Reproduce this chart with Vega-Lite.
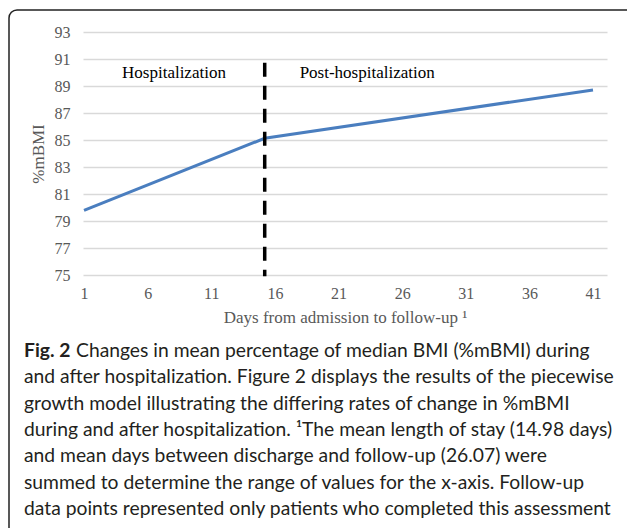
{
  "$schema": "https://vega.github.io/schema/vega-lite/v6.json",
  "width": 626,
  "height": 530,
  "autosize": {"type": "none"},
  "padding": {"left": 9, "top": 10, "right": -8, "bottom": -12},
  "background": "white",
  "config": {
    "view": {"stroke": "#222222", "strokeWidth": 1.5, "cornerRadius": 8},
    "font": "Liberation Serif"
  },
  "datasets": {
    "series": [
      {"day": 1, "mbmi": 79.78},
      {"day": 15.2, "mbmi": 85.13},
      {"day": 41, "mbmi": 88.71}
    ],
    "divider": [{"day": 15.2, "top": 90.72, "bottom": 74.9}],
    "phases": [
      {"day": 8.07, "level": 89.57, "label": "Hospitalization"},
      {"day": 23.25, "level": 89.57, "label": "Post-hospitalization"}
    ],
    "figlabel": [{"line": 1, "text": "Fig. 2"}],
    "firstline": [{"line": 1, "text": "Changes in mean percentage of median BMI (%mBMI) during"}],
    "caption": [
      {"line": 2, "text": "and after hospitalization. Figure 2 displays the results of the piecewise"},
      {"line": 3, "text": "growth model illustrating the differing rates of change in %mBMI"},
      {"line": 4, "text": "during and after hospitalization. ¹The mean length of stay (14.98 days)"},
      {"line": 5, "text": "and mean days between discharge and follow-up (26.07) were"},
      {"line": 6, "text": "summed to determine the range of values for the x-axis. Follow-up"},
      {"line": 7, "text": "data points represented only patients who completed this assessment"}
    ]
  },
  "layer": [
    {
      "layer": [
        {
          "data": {"name": "series"},
          "mark": {"type": "line", "color": "#4a7ebf", "strokeWidth": 3},
          "encoding": {
            "x": {
              "field": "day",
              "type": "quantitative",
              "scale": {"domain": [0.92, 42.1], "range": [74, 598], "nice": false, "zero": false},
              "axis": {
                "values": [1, 6, 11, 16, 21, 26, 31, 36, 41],
                "title": "Days from admission to follow-up ¹",
                "grid": false,
                "domain": false,
                "ticks": false,
                "offset": -265,
                "labelFont": "Liberation Serif",
                "labelFontSize": 16,
                "labelColor": "#595959",
                "labelPadding": 10,
                "labelFlush": false,
                "titleFont": "Liberation Serif",
                "titleFontSize": 17,
                "titleFontWeight": "normal",
                "titleColor": "#595959",
                "titlePadding": 8
              }
            },
            "y": {
              "field": "mbmi",
              "type": "quantitative",
              "scale": {"domain": [75, 93], "range": [265, 22], "nice": false, "zero": false},
              "axis": {
                "values": [75, 77, 79, 81, 83, 85, 87, 89, 91, 93],
                "title": "%mBMI",
                "grid": true,
                "gridColor": "#d9d9d9",
                "gridWidth": 1.3,
                "domain": false,
                "ticks": false,
                "offset": -74,
                "labelFont": "Liberation Serif",
                "labelFontSize": 16,
                "labelColor": "#595959",
                "labelPadding": 13,
                "titleFont": "Liberation Serif",
                "titleFontSize": 17,
                "titleFontWeight": "normal",
                "titleColor": "#595959",
                "titlePadding": 7
              }
            }
          }
        },
        {
          "data": {"name": "divider"},
          "mark": {"type": "rule", "color": "black", "strokeWidth": 3.5, "strokeDash": [14, 9]},
          "encoding": {
            "x": {"field": "day", "type": "quantitative"},
            "y": {"field": "top", "type": "quantitative"},
            "y2": {"field": "bottom"}
          }
        },
        {
          "data": {"name": "phases"},
          "mark": {"type": "text", "font": "Liberation Serif", "fontSize": 17, "color": "black", "align": "center", "baseline": "alphabetic"},
          "encoding": {
            "x": {"field": "day", "type": "quantitative"},
            "y": {"field": "level", "type": "quantitative"},
            "text": {"field": "label"}
          }
        }
      ]
    },
    {
      "layer": [
        {
          "data": {"name": "figlabel"},
          "mark": {"type": "text", "font": "Lato", "fontSize": 19.3, "fontWeight": "bold", "color": "#231f20", "align": "left", "baseline": "alphabetic"},
          "encoding": {
            "x": {"value": 15},
            "y": {"field": "line", "type": "ordinal", "scale": {"type": "point", "range": [347, 505], "padding": 0, "domain": [1, 2, 3, 4, 5, 6, 7]}, "axis": null},
            "text": {"field": "text"}
          }
        },
        {
          "data": {"name": "firstline"},
          "mark": {"type": "text", "font": "Lato", "fontSize": 19.3, "color": "#231f20", "align": "left", "baseline": "alphabetic", "dx": 52},
          "encoding": {
            "x": {"value": 15},
            "y": {"field": "line", "type": "ordinal", "axis": null},
            "text": {"field": "text"}
          }
        },
        {
          "data": {"name": "caption"},
          "mark": {"type": "text", "font": "Lato", "fontSize": 19.3, "color": "#231f20", "align": "left", "baseline": "alphabetic"},
          "encoding": {
            "x": {"value": 15},
            "y": {"field": "line", "type": "ordinal", "axis": null},
            "text": {"field": "text"}
          }
        }
      ]
    }
  ],
  "resolve": {"scale": {"y": "independent"}}
}
